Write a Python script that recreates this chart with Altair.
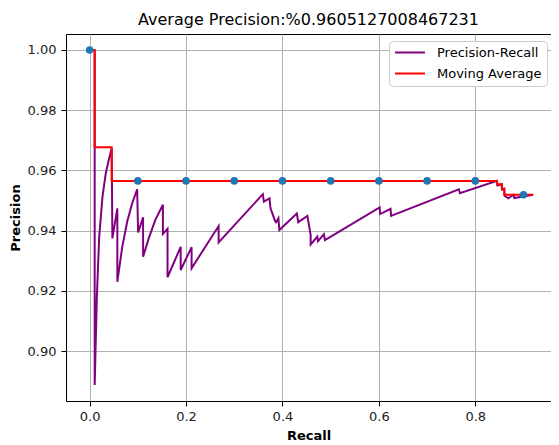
import altair as alt
import pandas as pd

# Precision-Recall curve (recall, precision)
pr_recall = [0.0105, 0.0105, 0.0150, 0.0199, 0.0267, 0.0335, 0.0405, 0.0458,
             0.0472, 0.0575, 0.0575, 0.0678, 0.0780, 0.0883, 0.0986, 0.1006,
             0.1109, 0.1109, 0.1226, 0.1361, 0.1520, 0.1520, 0.1616, 0.1616,
             0.1889, 0.1889, 0.2115, 0.2115, 0.2676, 0.2676, 0.3593, 0.3614,
             0.3731, 0.3752, 0.3846, 0.3867, 0.3916, 0.3936, 0.4298, 0.4327,
             0.4517, 0.4585, 0.4585, 0.4723, 0.4737, 0.4860, 0.4881, 0.6016,
             0.6027, 0.6242, 0.6253, 0.7659, 0.7680, 0.8450, 0.8460, 0.8550,
             0.8555, 0.8600, 0.8610, 0.8686, 0.8789, 0.8810, 0.9200]
pr_precision = [1.0000, 0.8887, 0.9180, 0.9380, 0.9513, 0.9590, 0.9640, 0.9673,
                0.9374, 0.9474, 0.9230, 0.9347, 0.9430, 0.9491, 0.9537, 0.9394,
                0.9444, 0.9313, 0.9374, 0.9435, 0.9486, 0.9389, 0.9406, 0.9245,
                0.9346, 0.9269, 0.9345, 0.9275, 0.9415, 0.9361, 0.9521, 0.9496,
                0.9507, 0.9474, 0.9432, 0.9428, 0.9441, 0.9402, 0.9457, 0.9428,
                0.9449, 0.9385, 0.9354, 0.9380, 0.9365, 0.9388, 0.9368, 0.9477,
                0.9455, 0.9472, 0.9449, 0.9537, 0.9524, 0.9565, 0.9550, 0.9554,
                0.9536, 0.9539, 0.9515, 0.9507, 0.9519, 0.9508, 0.9519]

# Moving average (interpolated precision envelope)
ma_recall = [0.0, 0.0105, 0.0105, 0.0458, 0.0458, 0.8450, 0.8450, 0.8550,
             0.8550, 0.8600, 0.8600, 0.9200]
ma_precision = [1.0000, 1.0000, 0.9677, 0.9677, 0.9565, 0.9565, 0.9554, 0.9554,
                0.9539, 0.9539, 0.9519, 0.9519]

# 11-point markers
pt_recall = [0.0, 0.1, 0.2, 0.3, 0.4, 0.5, 0.6, 0.7, 0.8, 0.9]
pt_precision = [1.0, 0.9565, 0.9565, 0.9565, 0.9565, 0.9565, 0.9565, 0.9565,
                0.9565, 0.9519]

series_names = ["Precision-Recall", "Moving Average"]
series_colors = ["#800080", "#ff0000"]

x_ticks = [0.0, 0.2, 0.4, 0.6, 0.8]
y_ticks = [0.90, 0.92, 0.94, 0.96, 0.98, 1.00]

pr_df = pd.DataFrame({"recall": pr_recall, "precision": pr_precision,
                      "series": series_names[0], "idx": range(len(pr_recall))})
ma_df = pd.DataFrame({"recall": ma_recall, "precision": ma_precision,
                      "series": series_names[1], "idx": range(len(ma_recall))})
pt_df = pd.DataFrame({"recall": pt_recall, "precision": pt_precision})

x_scale = alt.Scale(domain=[-0.049, 0.957], nice=False, zero=False)
y_scale = alt.Scale(domain=[0.8834, 1.0053], nice=False, zero=False)

x_axis = alt.Axis(title="Recall", values=x_ticks, format=".1f", grid=True,
                  gridColor="#b0b0b0", gridWidth=1, domain=False,
                  tickSize=5, tickColor="#000000", labelFontSize=13,
                  labelColor="#222222", labelPadding=4, titleFontSize=13,
                  titleFontWeight="bold", titlePadding=6, titleColor="#000000")
y_axis = alt.Axis(title="Precision", values=y_ticks, format=".2f", grid=True,
                  gridColor="#b0b0b0", gridWidth=1, domain=False,
                  tickSize=5, tickColor="#000000", labelFontSize=13,
                  labelColor="#222222", labelPadding=5, titleFontSize=13,
                  titleFontWeight="bold", titlePadding=5, titleColor="#000000")

color = alt.Color("series:N",
                  scale=alt.Scale(domain=series_names, range=series_colors),
                  legend=alt.Legend(title=None, orient="none", legendX=323,
                                    legendY=7, symbolType="M-1,0H4.45",
                                    symbolSize=121, symbolStrokeWidth=2,
                                    labelFontSize=13, labelOffset=30,
                                    labelColor="#000000", padding=5,
                                    rowPadding=7, fillColor="#ffffff",
                                    strokeColor="#cccccc", cornerRadius=4))

pr_line = alt.Chart(pr_df).mark_line(strokeWidth=2).encode(
    x=alt.X("recall:Q", scale=x_scale, axis=x_axis),
    y=alt.Y("precision:Q", scale=y_scale, axis=y_axis),
    color=color,
    order="idx:Q",
)
ma_line = alt.Chart(ma_df).mark_line(strokeWidth=2).encode(
    x=alt.X("recall:Q", scale=x_scale),
    y=alt.Y("precision:Q", scale=y_scale),
    color=color,
    order="idx:Q",
)
points = alt.Chart(pt_df).mark_circle(size=58, opacity=1, color="#1f77b4").encode(
    x=alt.X("recall:Q", scale=x_scale),
    y=alt.Y("precision:Q", scale=y_scale),
)

chart = alt.layer(pr_line, ma_line, points).properties(
    width=485, height=367,
    title=alt.TitleParams("Average Precision:%0.9605127008467231", fontSize=16,
                          fontWeight="normal", color="#000000", offset=6),
    autosize=alt.AutoSizeParams(type="none"),
    padding={"left": 58, "top": 26, "right": 0, "bottom": 44},
).configure(font="DejaVu Sans").configure_view(
    stroke="#000000", strokeWidth=1
)

chart.save("out.html", embed_options={"renderer": "svg", "actions": False})
